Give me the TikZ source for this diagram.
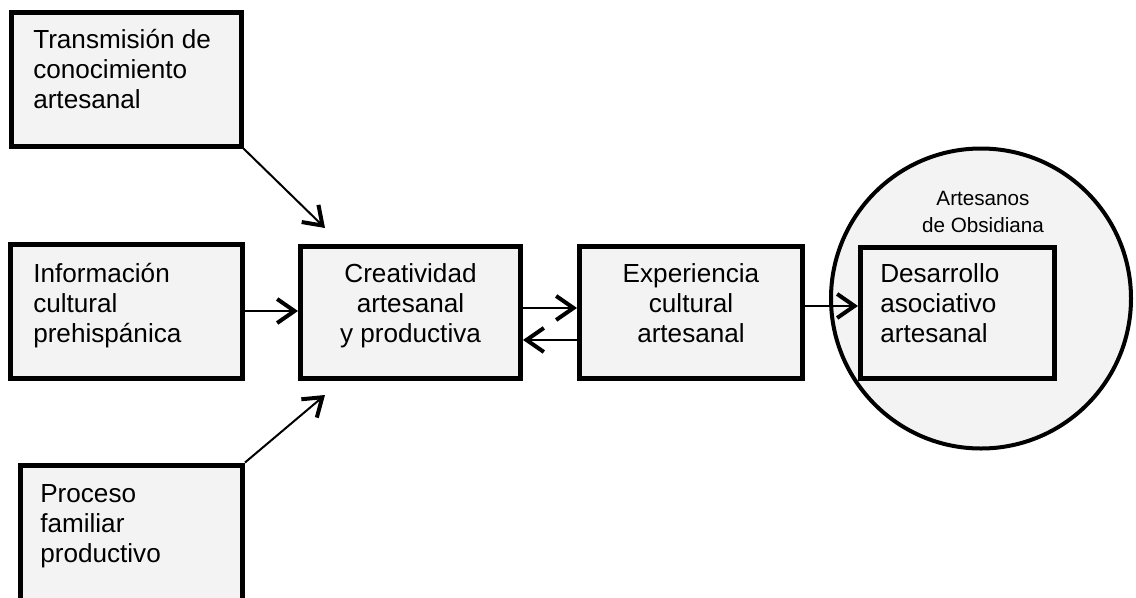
\documentclass[tikz,border=0pt]{standalone}
\usepackage{fontspec}
\setmainfont{Liberation Sans}
\usetikzlibrary{arrows.meta,calc}

\tikzset{
  % one unit = one pixel of a 1136 x 597 canvas, y pointing down
  box/.style 2 args={draw=black, line width=3.75pt, fill=boxgray,
    minimum width=#1*0.75pt, minimum height=#2*0.75pt, inner sep=0pt},
  lbl/.style={font=\fontsize{19.6}{22.5}\selectfont, inner sep=0pt, align=left},
  clbl/.style={font=\fontsize{19.6}{22.5}\selectfont, inner sep=0pt, align=center},
  small/.style={font=\fontsize{15.5}{20}\selectfont, inner sep=0pt, align=center},
  arr/.style={line width=1.5pt,
    -{Straight Barb[length=13pt,width=18pt,line width=3pt]}},
  group/.style={draw=black, line width=3pt, fill=boxgray, circle,
    minimum size=#1*0.75pt, inner sep=0pt}
}
\definecolor{boxgray}{HTML}{F3F3F3}

\begin{document}
\begin{tikzpicture}[x=0.75pt, y=-0.75pt]
  \useasboundingbox (0,0) rectangle (1136,597);
  \clip (0,0) rectangle (1136,597);

  % circle enclosing the association box
  \node[group=300] (org) at (981,298.5) {};
  \node[small, anchor=base] (orgT) at (983,232) {Artesanos\\de Obsidiana};

  % boxes
  \node[box={230}{134}] (trans) at (126,79) {};
  \node[box={232}{134}] (info) at (126.5,311) {};
  \node[box={222}{146}] (proc) at (131.5,538) {};
  \node[box={220}{132}] (creat) at (410.5,312.5) {};
  \node[box={223}{132}] (exp) at (691,312.5) {};
  \node[box={194}{131}] (des) at (957.5,313) {};

  % box texts (anchored at the baseline of the last line)
  \node[lbl, anchor=base west] (transT) at (33,108) {Transmisión de\\conocimiento\\artesanal};
  \node[lbl, anchor=base west] (infoT) at (33,342) {Información\\cultural\\prehispánica};
  \node[lbl, anchor=base west] (procT) at (40,562) {Proceso\\familiar\\productivo};
  \node[clbl, anchor=base] (creatT) at (410.5,342) {Creatividad\\artesanal\\y productiva};
  \node[clbl, anchor=base] (expT) at (691,342) {Experiencia\\cultural\\artesanal};
  \node[lbl, anchor=base west] (desT) at (880,342) {Desarrollo\\asociativo\\artesanal};

  % connectors
  \draw[arr] (trans.south east) -- ($(creat.north west)+(27,-16)$);
  \draw[arr] (proc.north east) -- ($(creat.south west)+(27,14)$);
  \draw[arr] (info.east) -- (info.east -| creat.west);
  \draw[arr] ([yshift=3.4pt]creat.east) -- ([yshift=3.4pt]exp.west);
  \draw[arr] ([yshift=-20.6pt]exp.west) -- ([yshift=-20.6pt]creat.east);
  \draw[arr] ([yshift=4.9pt]exp.east) -- ([yshift=4.9pt]exp.east -| des.west);
\end{tikzpicture}
\end{document}
